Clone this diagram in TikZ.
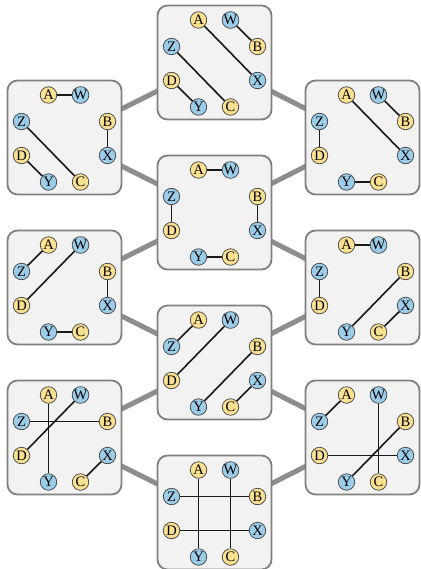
\documentclass[tikz,border=0pt]{standalone}
\usepackage{fontspec}
\setmainfont{Liberation Serif}
\usetikzlibrary{calc, backgrounds}

\definecolor{ballyellow}{RGB}{250,225,145}
\definecolor{ballblue}{RGB}{155,205,232}
\definecolor{panelgray}{RGB}{242,242,242}
\definecolor{framegray}{RGB}{128,128,128}

\tikzset{
  panel/.style={draw=framegray, line width=1.8pt, fill=panelgray, rounded corners=10pt, minimum size=114pt, inner sep=0pt},
  ball/.style={circle, draw=black!75, line width=0.7pt, fill=#1, minimum size=16.5pt, inner sep=0pt, font=\fontsize{14.5}{14.5}\selectfont},
  pairing/.style={line width=1.6pt, black!90},
  flip/.style={line width=5pt, framegray!90},
}

% one panel: name, x, y, list of joined pairs
\newcommand{\matchbox}[4]{%
  \node[panel] (#1) at (#2,#3) {};
  \foreach \p/\dx/\dy/\c in {A/-16/-42.5/ballyellow, W/16/-42.5/ballblue,
      Z/-43/-16/ballblue, B/43/-16/ballyellow, D/-43/18/ballyellow,
      X/43/18/ballblue, Y/-16/44.5/ballblue, C/16/44.5/ballyellow}
    \node[ball=\c] (#1-\p) at ($(#1)+(\dx,\dy)$) {\p};
  \foreach \u/\v in {#4}
    \draw[pairing] (#1-\u) -- (#1-\v);
}

\begin{document}
\begin{tikzpicture}[x=1pt, y=-1pt]
        \useasboundingbox (0,0) rectangle (420,569);

        % Draw the panels
        \matchbox{top}{214.5}{62.5}{A/X, W/B, Z/C, D/Y}
        \matchbox{left1}{64.5}{137.5}{A/W, Z/C, D/Y, B/X}
        \matchbox{right1}{362.5}{137.5}{A/X, W/B, Z/D, Y/C}
        \matchbox{mid2}{214.5}{212.5}{A/W, Z/D, B/X, Y/C}
        \matchbox{left2}{64.5}{287.5}{A/Z, W/D, B/X, Y/C}
        \matchbox{right2}{362.5}{287.5}{A/W, Z/D, B/Y, X/C}
        \matchbox{mid3}{214.5}{362.5}{A/Z, W/D, B/Y, X/C}
        \matchbox{left3}{64.5}{437.5}{A/Y, W/D, Z/B, X/C}
        \matchbox{right3}{362.5}{437.5}{A/Z, W/C, B/Y, D/X}
        \matchbox{bottom}{214.5}{512.5}{A/Y, W/C, Z/B, D/X}

        % Draw the links between panels
        \begin{scope}[on background layer]
          \draw[flip] (top.center) -- (left1.center);
          \draw[flip] (top.center) -- (right1.center);
          \draw[flip] (left1.center) -- (mid2.center);
          \draw[flip] (right1.center) -- (mid2.center);
          \draw[flip] (mid2.center) -- (left2.center);
          \draw[flip] (mid2.center) -- (right2.center);
          \draw[flip] (left2.center) -- (mid3.center);
          \draw[flip] (right2.center) -- (mid3.center);
          \draw[flip] (mid3.center) -- (left3.center);
          \draw[flip] (mid3.center) -- (right3.center);
          \draw[flip] (left3.center) -- (bottom.center);
          \draw[flip] (right3.center) -- (bottom.center);
        \end{scope}

    \end{tikzpicture}
\end{document}
